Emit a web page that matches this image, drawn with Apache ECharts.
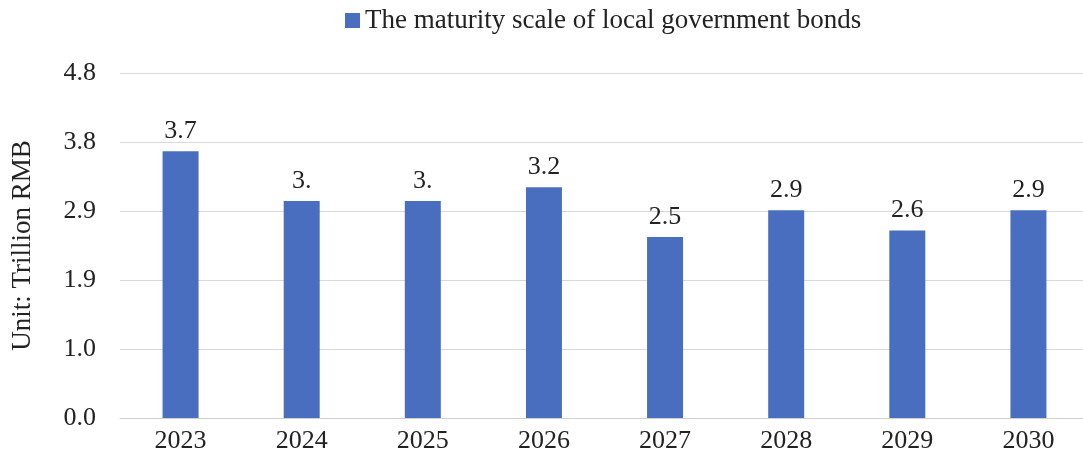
<!DOCTYPE html>
<html><head><meta charset="utf-8">
<script src="https://cdn.jsdelivr.net/npm/echarts@6/dist/echarts.min.js"></script>
<style>html,body{margin:0;padding:0;background:#fff}#c{width:1083px;height:454px}</style>
</head><body><div id="c"></div>
<script>
const categories = ['2023','2024','2025','2026','2027','2028','2029','2030'];
const values = [3.71, 3.02, 3.02, 3.21, 2.52, 2.89, 2.61, 2.89];
const valueLabels = ['3.7','3.','3.','3.2','2.5','2.9','2.6','2.9'];
const seriesName = 'The maturity scale of local government bonds';
const axisName = 'Unit: Trillion RMB';
const yMax = 4.8, yInterval = 0.96;

const FONT = 'Liberation Serif';
const FS = 26;
const chart = echarts.init(document.getElementById('c'), null, {renderer:'canvas'});
chart.setOption({
  animation:false,
  textStyle:{fontFamily:FONT},
  legend:{
    top:2, left:340,
    itemWidth:15, itemHeight:15, itemGap:10,
    icon:'rect',
    textStyle:{fontFamily:FONT, fontSize:27, color:'#222'},
    data:[seriesName]
  },
  grid:{left:120, width:969, top:73, bottom:36, containLabel:false, outerBoundsMode:'none'},
  xAxis:{
    type:'category', data:categories,
    axisLine:{lineStyle:{color:'#d0d0d0', width:1}},
    axisTick:{show:false},
    axisLabel:{fontFamily:FONT, fontSize:FS, color:'#222', margin:10}
  },
  yAxis:{
    type:'value', min:0, max:yMax, interval:yInterval,
    name:axisName, nameLocation:'middle', nameGap:84, nameRotate:90,
    nameTextStyle:{fontFamily:FONT, fontSize:27, color:'#222'},
    axisLine:{show:false}, axisTick:{show:false},
    splitLine:{lineStyle:{color:'#d9d9d9', width:1}},
    axisLabel:{fontFamily:FONT, fontSize:FS, color:'#222', margin:24,
      formatter:v=>v.toFixed(1)}
  },
  series:[{
    name:seriesName, type:'bar', data:values, barWidth:36,
    itemStyle:{color:'#4a6ebf'},
    label:{show:true, position:'top', distance:7, fontFamily:FONT, fontSize:FS, color:'#222',
      formatter:p=>valueLabels[p.dataIndex]}
  }]
});
</script></body></html>
